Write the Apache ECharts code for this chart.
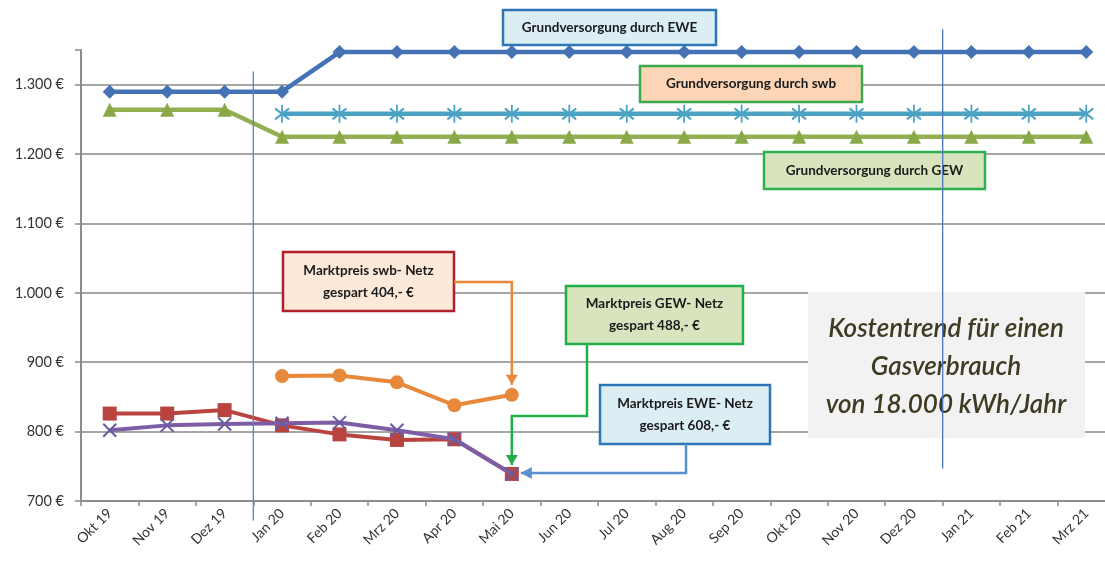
<!DOCTYPE html>
<html><head><meta charset="utf-8">
<script src="https://cdn.jsdelivr.net/npm/echarts@6/dist/echarts.min.js"></script>
<style>html,body{margin:0;padding:0;background:#fff}#c{width:1105px;height:565px}</style>
</head><body><div id="c"></div>
<script>
const categories = ['Okt 19','Nov 19','Dez 19','Jan 20','Feb 20','Mrz 20','Apr 20','Mai 20','Jun 20','Jul 20','Aug 20','Sep 20','Okt 20','Nov 20','Dez 20','Jan 21','Feb 21','Mrz 21'];
const grundEWE = [1290,1290,1290,1290,1347,1347,1347,1347,1347,1347,1347,1347,1347,1347,1347,1347,1347,1347];
const grundSWB = [null,null,null,1258,1258,1258,1258,1258,1258,1258,1258,1258,1258,1258,1258,1258,1258,1258];
const grundGEW = [1264,1264,1264,1225,1225,1225,1225,1225,1225,1225,1225,1225,1225,1225,1225,1225,1225,1225];
const marktSWB = [null,null,null,880,881,871,838,853];
const marktGEW = [826,826,831,809,796,788,789,739];
const marktEWE = [802,809,811,812,813,802,789,739];
const yTicks = [700,800,900,1000,1100,1200,1300];

const FONT = 'Lato, "Open Sans", sans-serif';
const asterisk = 'path://M0,-10L0,10M-8,-6L8,6M8,-6L-8,6';
const cross = 'path://M-7,-7L7,7M7,-7L-7,7';

function fmt(v){ return yTicks.indexOf(v) < 0 ? '' : (v >= 1000 ? Math.floor(v/1000) + '.' + String(v%1000).padStart(3,'0') : v) + ' €'; }

const option = {
  animation: false,
  grid: {left: 81, right: -10, top: 50, bottom: 64, outerBoundsMode: 'none', containLabel: false},
  xAxis: {
    type: 'category', data: categories, boundaryGap: true,
    axisLine: {lineStyle: {color: '#8c8c8c', width: 2}},
    axisTick: {show: true, length: 5, lineStyle: {color: '#8c8c8c', width: 1.5}},
    axisLabel: {rotate: 45, interval: 0, color: '#333', fontSize: 14, fontFamily: FONT, margin: 10},
    splitLine: {show: false}
  },
  yAxis: {
    type: 'value', min: 700, max: 1350, interval: 100,
    axisLine: {show: true, lineStyle: {color: '#8c8c8c', width: 2}},
    axisTick: {show: true, length: 6, lineStyle: {color: '#8c8c8c', width: 1.5}},
    axisLabel: {formatter: fmt, color: '#333', fontSize: 14.5, fontFamily: FONT, margin: 17},
    splitLine: {show: true, showMaxLine: false, lineStyle: {color: '#a6a6a6', width: 2}}
  },
  series: [
    {name: 'Grundversorgung EWE', type: 'line', data: grundEWE, symbol: 'diamond', symbolSize: 14,
     lineStyle: {color: '#4472b4', width: 4.5}, itemStyle: {color: '#4472b4'}, z: 5},
    {name: 'Grundversorgung swb', type: 'line', data: grundSWB, symbol: asterisk, symbolSize: [14,18],
     lineStyle: {color: '#4ba2c4', width: 4.5}, itemStyle: {color: 'none', borderColor: '#4ba2c4', borderWidth: 2}, z: 4},
    {name: 'Grundversorgung GEW', type: 'line', data: grundGEW, symbol: 'triangle', symbolSize: 14,
     lineStyle: {color: '#92b052', width: 4.5}, itemStyle: {color: '#8aa848'}, z: 4},
    {name: 'Marktpreis swb', type: 'line', data: marktSWB, symbol: 'circle', symbolSize: 14,
     lineStyle: {color: '#e8883a', width: 4}, itemStyle: {color: '#e8883a'}, z: 4},
    {name: 'Marktpreis GEW', type: 'line', data: marktGEW, symbol: 'rect', symbolSize: 14,
     lineStyle: {color: '#b9443f', width: 4}, itemStyle: {color: '#b9443f'}, z: 4},
    {name: 'Marktpreis EWE', type: 'line', data: marktEWE, symbol: cross, symbolSize: 13,
     lineStyle: {color: '#7d5ea6', width: 4}, itemStyle: {color: 'none', borderColor: '#6a5aa0', borderWidth: 2}, z: 5}
  ]
};

const chart = echarts.init(document.getElementById('c'), null, {renderer: 'canvas'});
chart.setOption(option);

function px(i, v){ return chart.convertToPixel({xAxisIndex: 0, yAxisIndex: 0}, [i, v]); }

const boxes = [
  {x: 503, y: 10, w: 213, h: 35, fill: '#dbeef4', stroke: '#2e75b6', lines: ['Grundversorgung durch EWE'], size: 13.5},
  {x: 640, y: 66, w: 222, h: 36, fill: '#fbd5b5', stroke: '#3ea84a', lines: ['Grundversorgung durch swb'], size: 13.5},
  {x: 764, y: 152, w: 221, h: 37, fill: '#d7e4bd', stroke: '#2eb050', lines: ['Grundversorgung durch GEW'], size: 13.5},
  {x: 283, y: 252, w: 171, h: 59, fill: '#fde9d9', stroke: '#b0202a', lines: ['Marktpreis swb- Netz', 'gespart 404,- €'], size: 13.5},
  {x: 566, y: 286, w: 177, h: 58, fill: '#d7e4bd', stroke: '#1fae4a', lines: ['Marktpreis GEW- Netz', 'gespart 488,- €'], size: 13.5},
  {x: 600, y: 385, w: 170, h: 59, fill: '#dbeef4', stroke: '#2e75b6', lines: ['Marktpreis EWE- Netz', 'gespart 608,- €'], size: 13.5}
];

const g = [];
g.push({type: 'rect', shape: {x: 808, y: 292, width: 277, height: 146}, style: {fill: '#f2f2f2'}, z: 10});
['Kostentrend für einen', 'Gasverbrauch', 'von 18.000 kWh/Jahr'].forEach((t, k) => {
  g.push({type: 'text', z: 11, style: {text: t, x: 946, y: 329 + k * 38, textAlign: 'center', textVerticalAlign: 'middle',
    font: 'italic 600 26px ' + FONT, fill: '#3f3a22'}});
});
boxes.forEach(b => {
  g.push({type: 'rect', z: 12, shape: {x: b.x, y: b.y, width: b.w, height: b.h}, style: {fill: b.fill, stroke: b.stroke, lineWidth: 2.5}});
  const n = b.lines.length;
  b.lines.forEach((t, k) => {
    g.push({type: 'text', z: 13, style: {text: t, x: b.x + b.w / 2, y: b.y + b.h / 2 + (k - (n - 1) / 2) * 22,
      textAlign: 'center', textVerticalAlign: 'middle', font: 'bold ' + b.size + 'px ' + FONT, fill: '#1a1a1a'}});
  });
});

const xb1 = (px(2, 700)[0] + px(3, 700)[0]) / 2;
const xb2 = (px(14, 700)[0] + px(15, 700)[0]) / 2;
g.push({type: 'line', z: 20, shape: {x1: xb1, y1: px(0, 1319)[1], x2: xb1, y2: px(0, 672)[1]}, style: {stroke: '#5b82c0', lineWidth: 1.3}});
g.push({type: 'line', z: 20, shape: {x1: xb2, y1: px(0, 1380)[1], x2: xb2, y2: px(0, 747)[1]}, style: {stroke: '#4e74c0', lineWidth: 1.3}});

function arrow(points, color, dir) {
  const last = points[points.length - 1];
  g.push({type: 'polyline', z: 14, shape: {points: points}, style: {stroke: color, lineWidth: 2.5, fill: null}});
  let tri;
  const [ax, ay] = last;
  if (dir === 'down') tri = [[ax - 6, ay - 10], [ax + 6, ay - 10], [ax, ay]];
  else tri = [[ax + 11, ay - 6], [ax + 11, ay + 6], [ax, ay]];
  g.push({type: 'polygon', z: 14, shape: {points: tri}, style: {fill: color}});
}
const pSwb = px(7, marktSWB[7]);
const pEnd = px(7, marktEWE[7]);
arrow([[454, 282], [pSwb[0], 282], [pSwb[0], pSwb[1] - 10]], '#e8883a', 'down');
arrow([[587, 344], [587, 416], [pEnd[0], 416], [pEnd[0], pEnd[1] - 9]], '#1fae4a', 'down');
arrow([[686, 444], [686, 473], [pEnd[0] + 9, 473]], '#5b8fd0', 'left');

chart.setOption({graphic: g});
</script></body></html>
